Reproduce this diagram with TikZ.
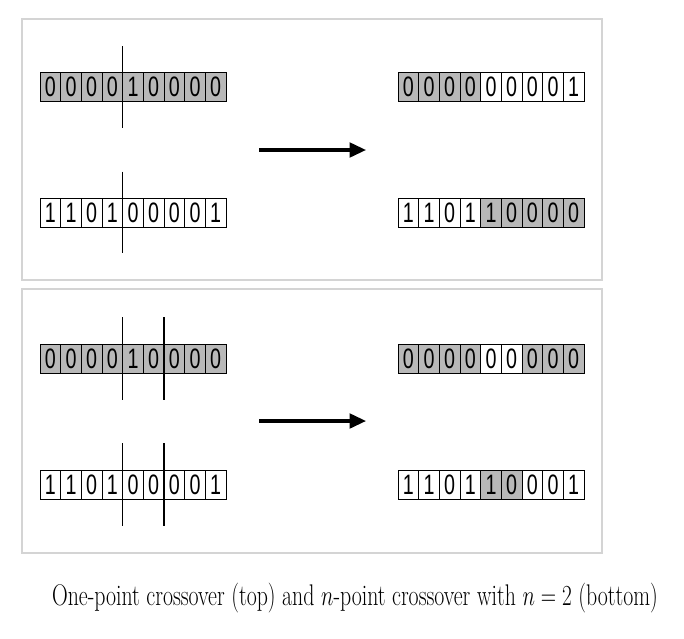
\documentclass[tikz,border=0pt]{standalone}
\usepackage{fontspec}
\usepackage{amsmath}
\newfontfamily\bitfont[FakeStretch=0.7]{Liberation Sans}
\usetikzlibrary{arrows.meta,calc}
\definecolor{cellgray}{RGB}{184,184,184}
\definecolor{panelgray}{RGB}{212,212,212}

\begin{document}
\begin{tikzpicture}[x=0.03cm, y=-0.03cm,
    cell/.style={rectangle, draw, fill=white, minimum width=0.62cm, minimum height=0.87cm, inner sep=0pt, outer sep=0pt, font=\bitfont\fontsize{24}{24}\selectfont},
    panel/.style={draw=panelgray, line width=1.3pt},
    cut/.style={line width=0.9pt},
    move/.style={-{Triangle[length=14pt, width=12.5pt]}, line width=2.6pt}
]

% Page and panels
\useasboundingbox (0,0) rectangle (684,638);
\draw[panel] (22,19) rectangle (602,280);
\draw[panel] (22,289) rectangle (602,553);

% One-point crossover: parents
\foreach \b [count=\i] in {0,0,0,0,1,0,0,0,0}
  \node[cell, fill=cellgray] (opA\i) at ({40+(\i-0.5)*20.67},86.5) {\b};
\foreach \b [count=\i] in {1,1,0,1,0,0,0,0,1}
  \node[cell] (opB\i) at ({40+(\i-0.5)*20.67},213) {\b};

% One-point crossover: children
\foreach \b/\s [count=\i] in {0/cellgray,0/cellgray,0/cellgray,0/cellgray,0/white,0/white,0/white,0/white,1/white}
  \node[cell, fill=\s] (ocA\i) at ({398+(\i-0.5)*20.67},86.5) {\b};
\foreach \b/\s [count=\i] in {1/white,1/white,0/white,1/white,1/cellgray,0/cellgray,0/cellgray,0/cellgray,0/cellgray}
  \node[cell, fill=\s] (ocB\i) at ({398+(\i-0.5)*20.67},213) {\b};

% One-point cut
\draw[cut] (opA4.north east) ++(0,-26) -- ++(0,82);
\draw[cut] (opB4.north east) ++(0,-27) -- ++(0,81);

% Two-point crossover: parents
\foreach \b [count=\i] in {0,0,0,0,1,0,0,0,0}
  \node[cell, fill=cellgray] (tpA\i) at ({40+(\i-0.5)*20.67},358.5) {\b};
\foreach \b [count=\i] in {1,1,0,1,0,0,0,0,1}
  \node[cell] (tpB\i) at ({40+(\i-0.5)*20.67},484.5) {\b};

% Two-point crossover: children
\foreach \b/\s [count=\i] in {0/cellgray,0/cellgray,0/cellgray,0/cellgray,0/white,0/white,0/cellgray,0/cellgray,0/cellgray}
  \node[cell, fill=\s] (tcA\i) at ({398+(\i-0.5)*20.67},358.5) {\b};
\foreach \b/\s [count=\i] in {1/white,1/white,0/white,1/white,1/cellgray,0/cellgray,0/white,0/white,1/white}
  \node[cell, fill=\s] (tcB\i) at ({398+(\i-0.5)*20.67},484.5) {\b};

% Two-point cuts
\foreach \k in {4,6} {
  \draw[cut] (tpA\k.north east) ++(0,-27) -- ++(0,83);
  \draw[cut] (tpB\k.north east) ++(0,-27) -- ++(0,83);
}

% Arrows
\coordinate (oneFrom) at (259,150);
\coordinate (oneTo) at (366,150);
\coordinate (twoFrom) at (259,421);
\coordinate (twoTo) at (366,421);
\draw[move] (oneFrom) -- (oneTo);
\draw[move] (twoFrom) -- (twoTo);

% Caption
\node (caption) at (355,598) {\fontsize{25.5}{30}\selectfont\scalebox{0.73}[1]{One-point crossover (top) and $n$-point crossover with $n=2$ (bottom)}};

\end{tikzpicture}
\end{document}
